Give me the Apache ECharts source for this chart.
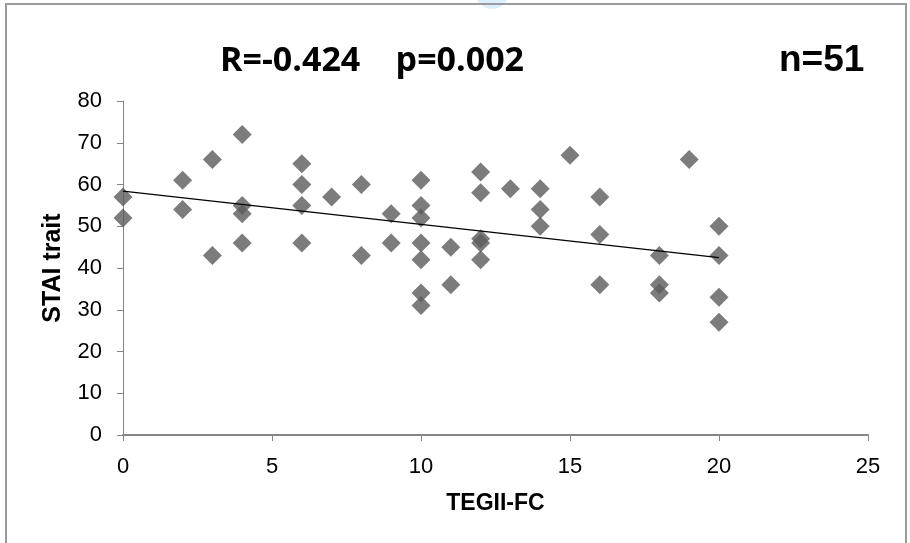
<!DOCTYPE html>
<html>
<head>
<meta charset="utf-8">
<script src="https://cdn.jsdelivr.net/npm/echarts@6/dist/echarts.min.js"></script>
<style>html,body{margin:0;padding:0;background:#fff}#c{width:910px;height:543px}</style>
</head>
<body>
<div id="c"></div>
<script>
// TEGII-FC (x) vs STAI trait (y)
const xValues = [0,0, 2,2, 3,3, 4,4,4,4, 6,6,6,6, 7, 8,8, 9,9, 10,10,10,10,10,10,10, 11,11, 12,12,12,12,12, 13, 14,14,14, 15, 16,16,16, 18,18,18, 19, 20,20,20,20];
const yValues = [57,52, 61,54, 66,43, 72,55,53,46, 65,60,55,46, 57, 60,43, 53,46, 61,55,52,46,42,34,31, 45,36, 63,58,47,46,42, 59, 59,54,50, 67, 57,48,36, 43,36,34, 66, 50,43,33,27];
const trendX = [0, 20];
const trendY = [58.4, 42.5];
const xTicks = [0,5,10,15,20,25];
const yTicks = [0,10,20,30,40,50,60,70,80];
const titleText = 'R=-0.424    p=0.002';
const nText = 'n=51';
const xName = 'TEGII-FC';
const yName = 'STAI trait';

const points = xValues.map((x, i) => [x, yValues[i]]);
const trend = trendX.map((x, i) => [x, trendY[i]]);

const chart = echarts.init(document.getElementById('c'));
const axisColor = '#868686';
chart.setOption({
  animation: false,
  backgroundColor: '#fff',
  graphic: [
    {type: 'circle', shape: {cx: 492, cy: -8, r: 17}, style: {fill: '#dceffc'}, z: 0},
    {type: 'rect', shape: {x: 6, y: 4, width: 900, height: 560}, style: {fill: 'none', stroke: '#9a9a9a', lineWidth: 2}, z: 1},
    {type: 'text', x: 220, y: 61, style: {text: titleText, font: 'bold 34px "Open Sans"', fill: '#000', textVerticalAlign: 'middle'}},
    {type: 'text', x: 779, y: 61, style: {text: nText, font: 'bold 37px "Liberation Sans"', fill: '#000', textVerticalAlign: 'middle'}}
  ],
  grid: {left: 123, right: 42, top: 101, bottom: 108},
  xAxis: {
    type: 'value', min: 0, max: 25, interval: 5,
    name: xName, nameLocation: 'middle', nameGap: 57,
    nameTextStyle: {fontFamily: 'Liberation Sans', fontWeight: 'bold', fontSize: 23, color: '#000'},
    axisLine: {lineStyle: {color: axisColor, width: 2}},
    axisTick: {show: true, length: 6, lineStyle: {color: axisColor}},
    axisLabel: {fontFamily: 'Liberation Sans', fontSize: 22, color: '#000', margin: 21},
    splitLine: {show: false}
  },
  yAxis: {
    type: 'value', min: 0, max: 80, interval: 10,
    name: yName, nameLocation: 'middle', nameGap: 57,
    nameTextStyle: {fontFamily: 'Liberation Sans', fontWeight: 'bold', fontSize: 25, color: '#000'},
    axisLine: {show: true, lineStyle: {color: axisColor, width: 1}},
    axisTick: {show: true, length: 6, lineStyle: {color: axisColor}},
    axisLabel: {fontFamily: 'Liberation Sans', fontSize: 22, color: '#000', margin: 21},
    splitLine: {show: false}
  },
  series: [
    {type: 'scatter', data: points, symbol: 'diamond', symbolSize: 19, itemStyle: {color: '#5b5b5b'}, z: 2},
    {type: 'line', data: trend, symbol: 'none', lineStyle: {color: '#000', width: 1.2}, z: 3}
  ]
});
</script>
</body>
</html>
